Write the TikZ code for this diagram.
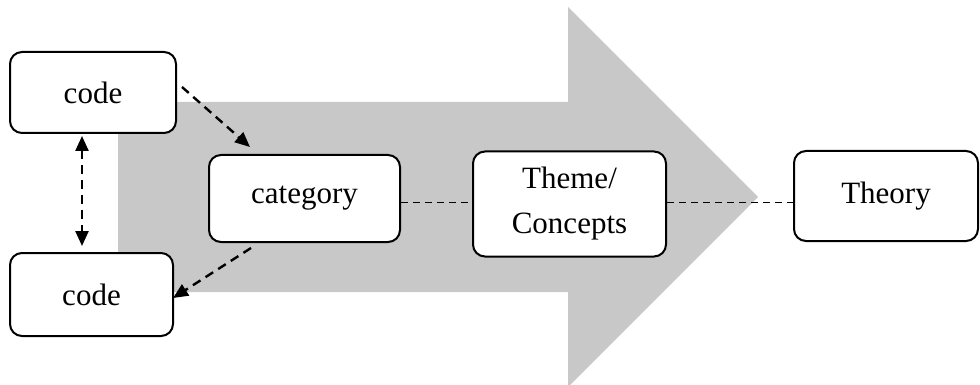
\documentclass[tikz,border=0pt]{standalone}
\usepackage{fontspec}
\setmainfont{Liberation Serif}
\usetikzlibrary{arrows.meta,calc}
\definecolor{arrowgray}{RGB}{200,200,200}
\begin{document}
\begin{tikzpicture}[x=1pt,y=-1pt,
  box/.style={draw,line width=2pt,rounded corners=12pt,fill=white,inner sep=0pt,align=center,
    font=\fontsize{31}{45}\selectfont},
  dar/.style={line width=2.4pt,dash pattern=on 9pt off 6pt,-{Triangle[length=15pt,width=13pt]}},
  ddar/.style={line width=2.4pt,dash pattern=on 9pt off 6pt,{Triangle[length=15pt,width=13pt]}-{Triangle[length=15pt,width=13pt]}},
  dline/.style={line width=1.8pt,dash pattern=on 7pt off 5pt}]
\useasboundingbox (0,0) rectangle (980,385);
\clip (0,0) rectangle (980,385);
\fill[arrowgray] (118,102) -- (568,102) -- (568,7) -- (758,197) -- (568,387) -- (568,292) -- (118,292) -- cycle;
\node[box,minimum width=166pt,minimum height=81pt] (codeT) at (93,92.5) {code};
\node[box,minimum width=163pt,minimum height=83pt] (codeB) at (91.5,294.5) {code};
\node[box,minimum width=191pt,minimum height=87pt] (cat) at (304.5,198.5) {category};
\node[box,minimum width=193pt,minimum height=105pt] (theme) at (569.5,204) {Theme/\\Concepts};
\node[box,minimum width=184pt,minimum height=90pt] (theory) at (886,196) {Theory};
\draw[dar] ([xshift=5pt,yshift=5.5pt]codeT.east) -- ([xshift=-54.5pt,yshift=7pt]cat.north);
\draw[ddar] ([xshift=-11pt,yshift=-2pt]codeT.south) -- ([xshift=-9.5pt,yshift=6pt]codeB.north);
\draw[dar] ([xshift=-53.5pt,yshift=-5pt]cat.south) -- ([xshift=-1pt,yshift=-3.5pt]codeB.east);
\draw[dline] ([yshift=1.5pt]theme.west -| cat.east) -- ([yshift=1.5pt]theme.west);
\draw[dline] ([yshift=1.5pt]theme.east) -- ([yshift=1.5pt]theme.east -| theory.west);
\end{tikzpicture}
\end{document}
